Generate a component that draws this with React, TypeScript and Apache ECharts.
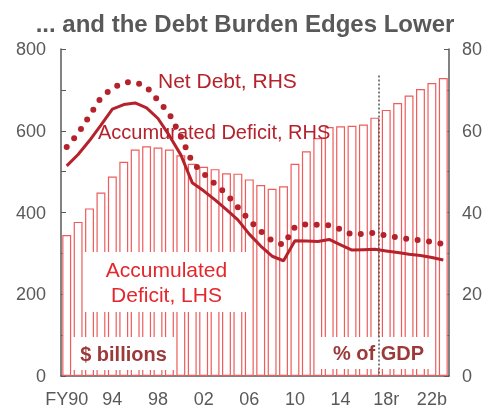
import React, { useEffect, useRef } from 'react';
import * as echarts from 'echarts';

const years = ['FY90','91','92','93','94','95','96','97','98','99','00','01','02','03','04','05','06','07','08','09','10','11','12','13','14','15','16','17','18r','19','20','21','22b','23b'];
const accDeficitLHS = [345, 377, 410, 449, 488, 524, 554, 562, 559, 554, 540, 519, 512, 506, 496, 495, 481, 467, 458, 464, 519, 550, 582, 609, 611, 612, 615, 632, 651, 668, 686, 702, 717, 729];
const accDeficitRHS = [51.4, 54.2, 57.6, 61.4, 65.3, 66.4, 66.8, 65.6, 63.0, 58.8, 54.1, 47.3, 45.3, 43.1, 40.7, 38.2, 34.7, 31.8, 29.3, 28.2, 33.1, 33.0, 32.9, 33.4, 32.1, 30.8, 30.9, 31.0, 30.6, 30.2, 29.8, 29.5, 29.0, 28.4];
const netDebtRHS = [56.0, 59.3, 63.7, 68.1, 70.4, 71.8, 71.9, 70.7, 67.4, 64.1, 58.6, 52.3, 49.5, 47.0, 44.5, 41.3, 38.1, 35.4, 33.1, 32.1, 36.5, 37.1, 37.0, 36.9, 35.9, 34.6, 34.8, 35.0, 34.3, 33.9, 33.5, 33.2, 32.8, 32.3];

const FONT = '"Liberation Sans", Arial, sans-serif';
const DARK = '#b5222b';
const GRAY = '#595959';

export default function App() {
  const ref = useRef<HTMLDivElement>(null);
  useEffect(() => {
    const chart = echarts.init(ref.current!, null, { renderer: 'svg' });
    chart.setOption({
      animation: false,
      title: {
        text: '... and the Debt Burden Edges Lower',
        left: 'center',
        top: 6,
        textStyle: { fontSize: 24, fontWeight: 'bold', color: GRAY, fontFamily: FONT },
      },
      grid: { left: 61, right: 41, top: 49, bottom: 31 },
      xAxis: {
        type: 'category',
        data: years,
        axisLine: { lineStyle: { color: GRAY, width: 1.5 } },
        axisTick: { interval: 3, inside: true, length: 4, lineStyle: { color: '#aaaaaa', width: 1.5 } },
        axisLabel: { interval: 3, margin: 14, fontSize: 18, color: GRAY, fontFamily: FONT },
      },
      yAxis: [
        {
          type: 'value', min: 0, max: 800, interval: 100,
          splitLine: { show: false },
          axisLine: { show: true, lineStyle: { color: GRAY, width: 1.5 } },
          axisTick: { show: true, inside: true, length: 5, lineStyle: { color: GRAY, width: 1 } },
          axisLabel: { margin: 15, fontSize: 18, color: GRAY, fontFamily: FONT,
            formatter: (v: number) => (v % 200 === 0 ? String(v) : '') },
        },
        {
          type: 'value', min: 0, max: 80, interval: 10, position: 'right',
          splitLine: { show: false },
          axisLine: { show: true, lineStyle: { color: GRAY, width: 1.5 } },
          axisTick: { show: true, inside: true, length: 5, lineStyle: { color: GRAY, width: 1 } },
          axisLabel: { margin: 13, fontSize: 18, color: GRAY, fontFamily: FONT,
            formatter: (v: number) => (v % 20 === 0 ? String(v) : '') },
        },
      ],
      series: [
        {
          name: 'Accumulated Deficit, LHS', type: 'bar', yAxisIndex: 0, data: accDeficitLHS,
          barCategoryGap: '22%',
          itemStyle: { color: '#ffffff', borderColor: '#ee5c5c', borderWidth: 1.2 },
        },
        {
          name: 'Accumurated Deficit, RHS', type: 'line', yAxisIndex: 1, data: accDeficitRHS,
          showSymbol: false, symbol: 'none', z: 5,
          lineStyle: { color: DARK, width: 3 },
        },
        {
          name: 'Net Debt, RHS', type: 'line', yAxisIndex: 1, data: netDebtRHS,
          showSymbol: false, symbol: 'none', z: 5,
          lineStyle: { color: DARK, width: 6, type: [0, 11.5], cap: 'round' },
        },
      ],
    });

    const xa = chart.convertToPixel({ xAxisIndex: 0 }, '17') as number;
    const xb = chart.convertToPixel({ xAxisIndex: 0 }, '18r') as number;
    const yTop = chart.convertToPixel({ yAxisIndex: 0 }, 735) as number;
    const yBot = chart.convertToPixel({ yAxisIndex: 0 }, 0) as number;
    const vx = (xa + xb) / 2 - 1.5;

    chart.setOption({
      graphic: [
        { type: 'rect', z: 10, shape: { x: 85, y: 252, width: 162, height: 60 }, style: { fill: '#ffffff' } },
        { type: 'text', z: 11, x: 166.5, y: 282, style: { text: 'Accumulated\nDeficit, LHS', fill: '#e3272d', font: `21px ${FONT}`, textAlign: 'center', textVerticalAlign: 'middle', lineHeight: 25 } },
        { type: 'rect', z: 10, shape: { x: 72, y: 337, width: 103, height: 33 }, style: { fill: '#ffffff' } },
        { type: 'text', z: 11, x: 123.5, y: 354, style: { text: '$ billions', fill: '#9c3a3a', font: `bold 20px ${FONT}`, textAlign: 'center', textVerticalAlign: 'middle' } },
        { type: 'rect', z: 10, shape: { x: 320, y: 337, width: 115, height: 32 }, style: { fill: '#ffffff' } },
        { type: 'text', z: 11, x: 378.5, y: 353, style: { text: '% of GDP', fill: '#9c3a3a', font: `bold 20px ${FONT}`, textAlign: 'center', textVerticalAlign: 'middle' } },
        { type: 'text', z: 11, x: 158, y: 80, style: { text: 'Net Debt, RHS', fill: DARK, font: `21px ${FONT}`, textAlign: 'left', textVerticalAlign: 'middle' } },
        { type: 'text', z: 11, x: 98, y: 132, style: { text: 'Accumurated Deficit, RHS', fill: DARK, font: `20px ${FONT}`, textAlign: 'left', textVerticalAlign: 'middle' } },
        { type: 'line', z: 20, shape: { x1: vx, y1: yTop, x2: vx, y2: yBot }, style: { stroke: '#555555', lineWidth: 1.5, lineDash: [2, 2] } },
      ],
    });
    return () => chart.dispose();
  }, []);
  return <div ref={ref} style={{ position: 'fixed', left: 0, top: 0, width: 490, height: 408 }} />;
}
